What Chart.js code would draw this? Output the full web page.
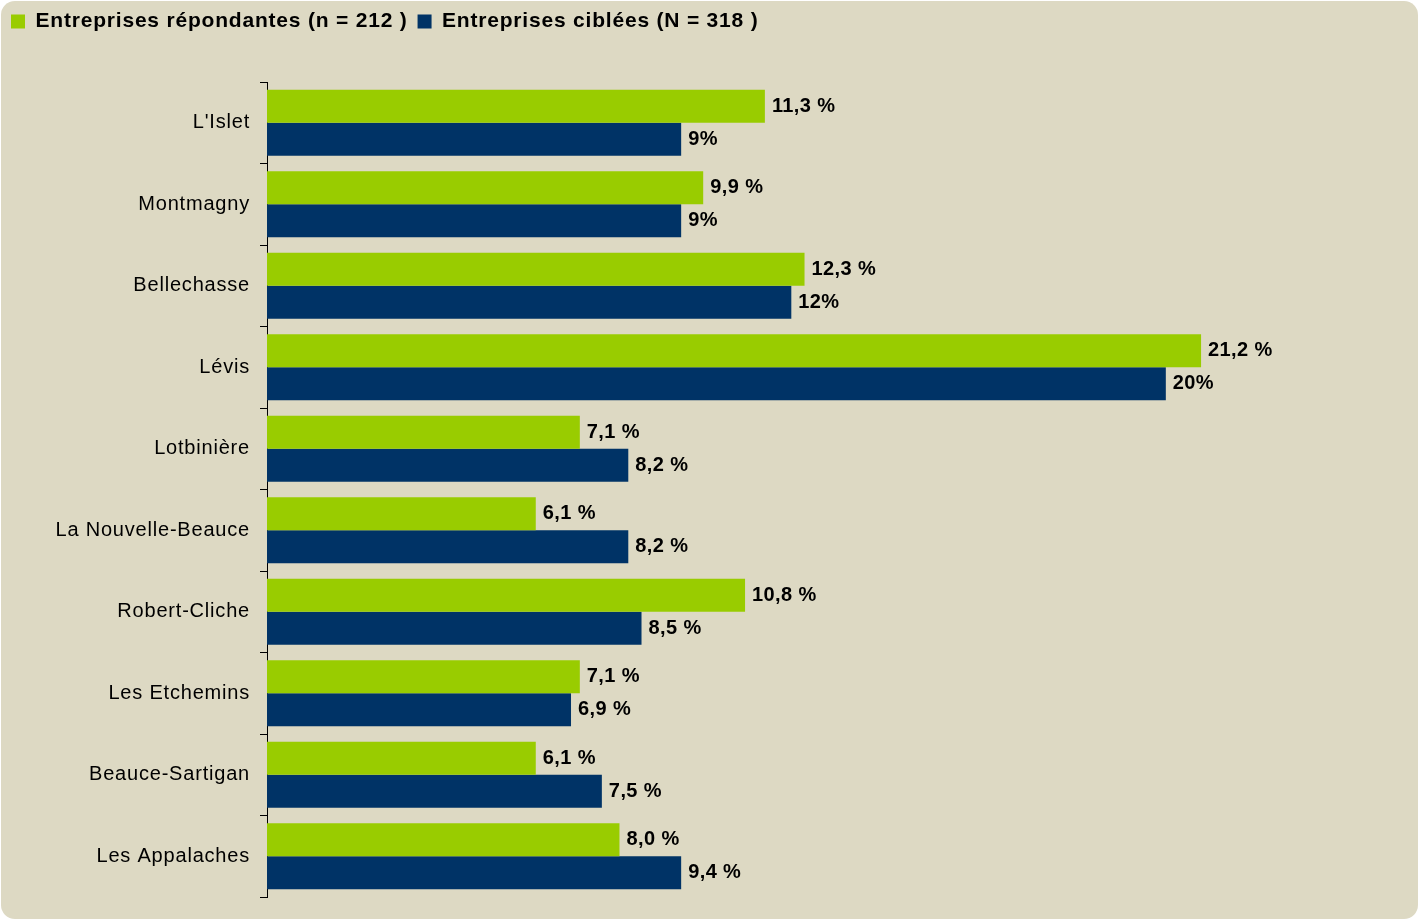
<!DOCTYPE html>
<html>
<head>
<meta charset="utf-8">
<script src="https://cdn.jsdelivr.net/npm/chart.js@4.4.1/dist/chart.umd.min.js"></script>
<style>
  html, body { margin: 0; padding: 0; background: #fff; }
  #box {
    position: absolute; left: 1px; top: 1px; width: 1417px; height: 918px;
    background: #DDD9C3; border-radius: 14px; overflow: hidden;
  }
  #box canvas { display: block; }
</style>
</head>
<body>
<div id="box"><canvas id="regions" width="1417" height="918"></canvas></div>
<script>
// categories and values
const categories = ["L'Islet", "Montmagny", "Bellechasse", "Lévis", "Lotbinière",
  "La Nouvelle-Beauce", "Robert-Cliche", "Les Etchemins", "Beauce-Sartigan", "Les Appalaches"]
const repondantes = [11.3, 9.9, 12.2, 21.2, 7.1, 6.1, 10.85, 7.1, 6.1, 8.0]
const ciblees = [9.4, 9.4, 11.9, 20.4, 8.2, 8.2, 8.5, 6.9, 7.6, 9.4]
const repondantesLabels = ["11,3 %", "9,9 %", "12,3 %", "21,2 %", "7,1 %", "6,1 %", "10,8 %", "7,1 %", "6,1 %", "8,0 %"]
const cibleesLabels = ["9%", "9%", "12%", "20%", "8,2 %", "8,2 %", "8,5 %", "6,9 %", "7,5 %", "9,4 %"]
const seriesNames = ["Entreprises répondantes (n = 212 )", "Entreprises ciblées (N = 318 )"]

const FONT = "'Liberation Sans', Arial, sans-serif"

// spacing of the old office renderer
const spacing = {
  id: "spacing",
  beforeLayout(chart) { chart.ctx.letterSpacing = "0.8px" },
  beforeDraw(chart) { chart.ctx.letterSpacing = "0.8px" }
}

// extra room under the legend
const legendRoom = {
  id: "legendRoom",
  beforeInit(chart) {
    const fit = chart.legend.fit
    chart.legend.fit = function () {
      fit.call(this)
      this.height += 40
    }
  }
}

// value labels at the end of each bar
const barLabels = {
  id: "barLabels",
  afterDatasetsDraw(chart) {
    const ctx = chart.ctx
    const texts = [repondantesLabels, cibleesLabels]
    ctx.save()
    ctx.letterSpacing = "0.4px"
    ctx.font = "bold 20px " + FONT
    ctx.fillStyle = "#000"
    ctx.textAlign = "left"
    ctx.textBaseline = "middle"
    chart.data.datasets.forEach((ds, i) => {
      chart.getDatasetMeta(i).data.forEach((bar, j) => {
        ctx.fillText(texts[i][j], bar.x + 7, bar.y)
      })
    })
    ctx.restore()
  }
}

const ctx = document.getElementById("regions").getContext("2d")
new Chart(ctx, {
  type: "bar",
  data: {
    labels: categories,
    datasets: [
      { label: seriesNames[0], data: repondantes, backgroundColor: "#99CC00" },
      { label: seriesNames[1], data: ciblees, backgroundColor: "#003366" },
    ],
  },
  options: {
    indexAxis: "y",
    responsive: false,
    animation: false,
    categoryPercentage: 0.81,
    barPercentage: 1.0,
    layout: { padding: { left: 0, right: 49.5, top: 0, bottom: 21 } },
    plugins: {
      tooltip: { enabled: false },
      legend: {
        position: "top",
        align: "start",
        labels: {
          boxWidth: 14,
          boxHeight: 14,
          padding: 10,
          color: "#000",
          font: { family: FONT, size: 21, weight: "bold" },
        },
      },
    },
    scales: {
      x: {
        display: false,
        min: 0,
        max: 25,
      },
      y: {
        afterFit(scale) { scale.width = 266 },
        border: { display: true, color: "#000", width: 1 },
        grid: { drawOnChartArea: false, drawTicks: true, tickLength: 7, color: "#000", offset: true },
        ticks: { color: "#000", padding: 10, font: { family: FONT, size: 20 } },
      },
    },
  },
  plugins: [spacing, legendRoom, barLabels],
})
</script>
</body>
</html>
